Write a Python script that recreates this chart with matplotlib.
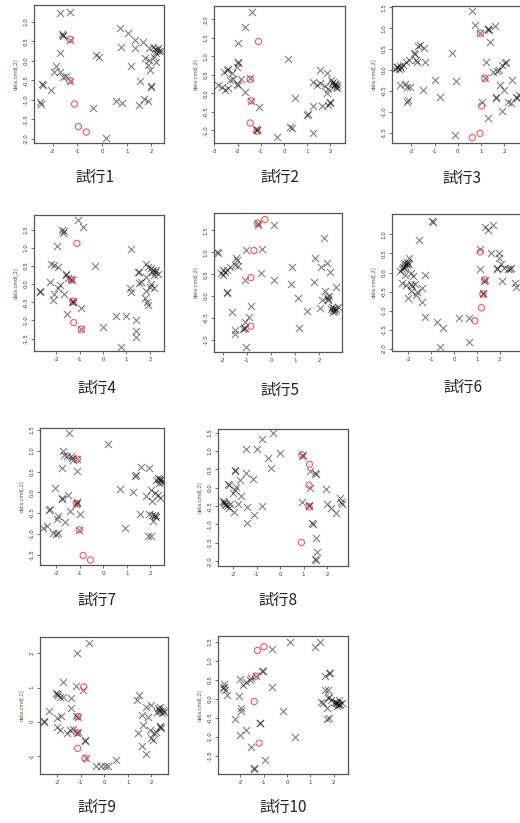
import numpy as np
import matplotlib.pyplot as plt

plt.rcParams['axes.unicode_minus'] = False

# ---- data: black crosses (x, y) and red circles (x, y) per trial ----
t1_cross = np.array([(-1.73,1.23),(-1.32,1.26),(-1.59,0.66),(-1.57,0.64),(-1.62,0.68),(-1.29,0.53),(-1.73,0.19),
    (-1.86,-0.13),(-1.96,-0.30),(-1.73,-0.28),(-1.59,-0.41),(-1.45,-0.38),(-1.30,-0.53),(-2.41,-0.62),(-2.43,-0.60),
    (-2.09,-0.75),(-2.54,-1.05),(-2.50,-1.10),(-0.37,-1.22),(0.14,-1.97),(-0.24,0.15),(-0.14,0.10),(0.74,0.85),
    (1.05,0.70),(0.77,0.34),(1.32,0.53),(1.32,0.32),(1.66,0.49),(1.19,-0.13),(0.58,-1.03),(0.82,-1.09),(1.53,-0.52),
    (1.50,-1.14),(1.69,-0.97),(1.86,-1.02),(1.73,0.06),(1.90,0.02),(1.86,-0.11),(1.96,-0.24),(2.00,-0.66),(2.01,-0.68),
    (1.90,0.32),(2.07,0.34),(2.15,0.30),(2.22,0.27),(2.30,0.24),(2.38,0.26),(2.20,0.21),(2.27,0.33),(2.10,0.10),(2.20,-0.02)])
t1_red = np.array([(-1.30,0.55),(-1.32,-0.51),(-1.12,-1.11),(-0.96,-1.69),(-0.64,-1.83)])

t2_cross = np.array([(-1.39,2.21),(-1.68,1.80),(-2.0,1.35),(-2.0,0.86),(-1.97,0.83),(-2.04,0.72),(0.19,0.92),(-2.6,0.58),
    (-2.47,0.62),(-2.4,0.67),(-2.25,0.54),(-2.33,0.36),(-2.2,0.40),(-2.83,0.23),(-2.54,0.10),(-2.68,0.18),(-2.4,0.14),
    (-2.0,0.23),(-2.02,0.25),(-1.85,0.38),(-1.68,0.05),(-1.46,0.41),(-1.42,-0.2),(-1.10,-0.37),(-1.17,-0.98),(-1.15,-1.0),
    (-1.19,-0.95),(-0.31,-1.18),(0.26,-0.91),(0.36,-0.93),(0.48,-0.13),(0.98,-0.58),(1.02,-0.55),(1.27,-0.35),(1.27,-1.07),
    (1.27,0.32),(1.41,0.22),(1.55,0.28),(1.55,0.63),(1.63,-0.35),(1.77,0.19),(1.84,0.54),(1.84,0.0),(1.90,-0.31),
    (1.98,-0.22),(2.0,-0.25),(2.02,0.36),(2.1,0.30),(2.18,0.24),(2.25,0.18),(2.3,0.14),(2.15,0.20),(2.05,0.28),
    (2.22,0.26),(2.3,0.22),(1.9,0.12)])
t2_red = np.array([(-1.10,1.40),(-1.46,0.38),(-1.42,-0.2),(-1.46,-0.80),(-1.17,-1.02)])

t3_cross = np.array([(0.62,1.40),(0.72,1.08),(0.97,0.88),(1.30,0.98),(1.33,0.96),(1.28,0.99),(1.59,1.06),(1.38,0.68),
    (-0.27,0.40),(-1.70,0.58),(-1.62,0.60),(-1.9,0.40),(-1.86,0.37),(-1.46,0.52),(-2.1,0.24),(-2.24,0.20),(-1.82,0.24),
    (-1.75,0.20),(-1.42,0.20),(-2.7,0.03),(-2.6,0.06),(-2.5,0.10),(-2.45,0.05),(-2.55,0.02),(-2.35,0.12),(-2.62,0.08),
    (-2.47,-0.36),(-2.28,-0.34),(-2.18,-0.40),(-2.06,-0.42),(-2.14,-0.72),(-2.18,-0.78),(-1.51,-0.48),(-0.99,-0.24),
    (-0.77,-0.64),(-0.06,-0.26),(-0.13,-1.56),(1.05,-0.76),(1.16,-0.2),(1.19,0.2),(1.30,-1.16),(1.52,-0.06),(1.69,-0.02),
    (1.79,0.0),(1.91,0.12),(2.05,0.20),(2.03,0.17),(1.81,-0.36),(1.98,-0.48),(1.66,-0.66),(1.64,-0.68),(1.88,-0.98),
    (2.16,-0.76),(2.27,-0.80),(2.31,-0.24),(2.48,-0.64),(2.55,-0.68),(2.62,-0.60)])
t3_red = np.array([(0.97,0.88),(1.16,-0.2),(1.02,-0.86),(0.95,-1.52),(0.62,-1.62)])

t4_cross = np.array([(-1.07,1.76),(-0.85,1.58),(-1.73,1.49),(-1.70,1.40),(-1.68,1.45),(-1.95,1.05),(-2.2,0.54),(-2.1,0.52),
    (-1.92,0.48),(-0.36,0.50),(1.18,0.96),(-1.59,0.27),(-1.57,0.25),(-1.49,0.16),(-1.35,0.14),(-1.32,0.10),(-2.24,0.06),
    (-1.85,-0.03),(-1.92,-0.12),(-2.1,-0.28),(-2.13,-0.44),(-1.66,-0.28),(-2.7,-0.19),(-2.68,-0.21),(-1.28,-0.46),
    (-1.30,-0.49),(-1.26,-0.50),(-0.95,-0.67),(-1.53,-0.81),(-0.92,-1.24),(0.0,-1.17),(0.54,-0.87),(0.99,-0.88),
    (1.42,-0.99),(1.42,-1.29),(1.42,-1.45),(0.78,-1.72),(1.16,-0.10),(1.21,-0.23),(1.49,0.34),(1.55,0.32),(1.53,0.02),
    (1.62,0.06),(1.82,0.54),(1.90,0.48),(1.85,0.2),(1.99,-0.07),(2.04,0.0),(1.85,-0.19),(1.78,-0.39),(1.89,-0.50),
    (1.92,-0.58),(2.06,0.43),(2.13,0.38),(2.23,0.34),(2.34,0.29),(2.16,0.25),(2.26,0.40),(2.1,0.32),(2.16,-0.10)])
t4_red = np.array([(-1.11,1.12),(-1.35,0.12),(-1.28,-0.47),(-1.25,-1.06),(-0.92,-1.24)])

t5_cross = np.array([(-0.56,1.67),(-0.53,1.62),(0.13,1.63),(-0.36,1.08),(-1.02,1.06),(-2.23,1.0),(-2.21,0.98),(-1.44,0.87),
    (-1.40,0.83),(-1.39,0.68),(-1.50,0.72),(-1.71,0.67),(-2.0,0.60),(-1.93,0.56),(-2.07,0.52),(-2.0,0.48),(-1.85,0.60),
    (-0.43,0.52),(-1.09,0.37),(0.14,0.37),(-1.85,0.08),(-1.83,0.10),(-1.64,-0.36),(-0.84,-0.22),(-0.92,-0.49),
    (-1.09,-0.59),(-1.12,-0.74),(-1.15,-0.76),(-1.10,-0.72),(-1.5,-0.78),(-1.48,-0.86),(-1.05,-1.17),(0.84,0.27),
    (0.86,0.66),(1.11,-0.05),(1.49,-0.35),(1.17,-0.74),(1.77,0.31),(1.84,0.87),(2.19,1.33),(2.09,0.67),(2.33,0.75),
    (2.47,0.54),(2.05,-0.28),(2.23,0.12),(2.12,-0.09),(2.33,-0.02),(2.38,-0.06),(2.42,0.0),(2.36,-0.09),(2.68,0.21),
    (2.50,-0.30),(2.56,-0.33),(2.62,-0.27),(2.70,-0.30),(2.78,-0.25),(2.58,-0.36),(2.66,-0.34),(2.52,-0.25)])
t5_red = np.array([(-0.56,1.67),(-0.25,1.75),(-0.71,1.04),(-0.84,0.42),(-0.84,-0.69)])

t6_cross = np.array([(-0.96,1.35),(-0.94,1.33),(-1.52,0.86),(-2.35,0.03),(-2.28,0.08),(-2.2,0.13),(-2.15,0.18),(-2.1,0.22),
    (-2.05,0.27),(-2.2,0.24),(-2.25,0.15),(-2.02,0.20),(-1.98,0.39),(-2.0,0.25),(-2.13,-0.06),(-1.9,-0.02),(-1.82,-0.10),
    (-2.3,-0.28),(-2.09,-0.32),(-1.9,-0.30),(-1.85,-0.36),(-1.72,-0.30),(-1.62,-0.50),(-1.87,-0.48),(-2.01,-0.67),
    (-1.28,-0.06),(-1.4,-0.41),(-1.4,-0.76),(-1.66,-0.58),(-1.28,-1.15),(-0.74,-1.30),(-0.48,-1.44),(-0.63,-1.94),
    (0.23,-1.18),(0.64,-1.18),(0.67,-1.82),(1.15,0.62),(1.15,0.09),(1.34,-0.19),(1.32,-0.21),(1.26,-0.54),(1.28,-0.56),
    (1.37,1.18),(1.49,1.12),(1.71,1.23),(1.62,0.51),(1.96,0.51),(1.96,0.38),(2.07,0.22),(1.88,0.09),(1.86,0.11),
    (2.18,0.11),(2.36,0.10),(2.50,0.11),(2.46,0.08),(2.10,-0.22),(2.69,-0.28),(2.72,-0.37)])
t6_red = np.array([(1.15,0.54),(1.34,-0.19),(1.26,-0.56),(1.20,-0.92),(0.91,-1.26)])

t7_cross = np.array([(-1.44,1.43),(0.21,1.17),(-1.72,0.99),(-1.66,0.91),(-1.55,0.87),(-1.37,0.87),(-1.30,0.79),(-1.33,0.83),
    (-1.10,0.80),(-1.76,0.59),(-1.13,0.52),(-2.04,0.10),(-1.76,-0.14),(-1.73,-0.16),(-1.48,-0.07),(-1.13,-0.26),
    (-1.15,-0.28),(-1.10,-0.24),(-2.28,-0.42),(-2.26,-0.40),(-1.41,-0.44),(-0.99,-0.52),(-1.9,-0.58),(-1.97,-0.64),
    (-1.62,-0.72),(-2.54,-0.85),(-2.39,-0.82),(-2.14,-0.98),(-2.0,-1.0),(-1.9,-0.98),(-1.01,-0.90),(0.73,0.09),
    (0.92,-0.86),(1.27,0.02),(1.34,0.39),(1.38,0.42),(1.55,-0.52),(1.62,0.60),(1.93,0.59),(1.83,-0.08),(1.93,-0.52),
    (2.04,0.06),(2.08,-0.20),(2.18,-0.02),(2.32,-0.06),(2.42,-0.14),(2.11,-0.70),(2.08,-0.54),(2.18,-0.54),(2.23,-0.60),
    (2.21,-0.58),(1.90,-1.06),(2.04,-1.04),(2.25,0.30),(2.32,0.35),(2.40,0.29),(2.50,0.26),(2.58,0.24),(2.35,0.22),
    (2.45,0.32),(2.38,0.33)])
t7_red = np.array([(-1.10,0.80),(-1.13,-0.27),(-1.01,-0.90),(-0.85,-1.52),(-0.54,-1.63)])

t8_cross = np.array([(-0.30,1.48),(-0.77,1.33),(-0.98,1.05),(-1.46,1.05),(-0.51,0.82),(-0.01,0.94),(-0.37,0.55),(-1.93,0.48),
    (-1.91,0.46),(-1.43,0.39),(-1.15,0.25),(-1.72,0.21),(-2.21,0.09),(-2.19,0.07),(-1.86,0.03),(-1.93,-0.06),(-2.0,-0.15),
    (-1.65,-0.23),(-1.79,-0.43),(-2.43,-0.36),(-2.37,-0.40),(-2.30,-0.45),(-2.25,-0.50),(-2.18,-0.55),(-2.35,-0.48),
    (-2.40,-0.42),(-2.14,-0.45),(-1.96,-0.67),(-1.39,-0.52),(-1.11,-0.73),(-1.39,-0.97),(-0.77,-0.49),(0.95,0.86),
    (0.98,0.88),(1.26,0.45),(1.47,0.39),(1.54,0.37),(1.26,0.0),(0.95,-0.40),(1.23,-0.49),(1.25,-0.47),(1.36,-0.95),
    (1.38,-0.98),(1.52,-1.36),(1.57,-1.75),(1.50,-1.93),(1.55,-1.97),(1.94,-0.04),(2.01,-0.45),(2.18,-0.56),(2.40,-0.70),
    (2.54,-0.29),(2.61,-0.38),(2.64,-0.43)])
t8_red = np.array([(0.93,0.90),(1.25,0.64),(1.23,0.07),(1.23,-0.52),(0.91,-1.49)])

t9_cross = np.array([(-0.64,2.31),(-1.15,2.02),(-1.74,1.17),(-1.21,1.04),(-0.92,0.92),(-2.06,0.85),(-1.96,0.78),(-1.89,0.71),
    (-1.77,0.72),(-2.0,0.80),(-1.43,0.68),(-2.34,0.32),(-1.43,0.39),(-2.03,0.10),(-1.86,0.17),(-1.21,0.17),(-1.13,0.15),
    (-2.57,0.0),(-2.55,0.02),(-2.0,-0.15),(-1.89,-0.24),(-1.6,-0.34),(-1.46,-0.24),(-1.35,-0.20),(-1.15,-0.32),
    (-1.13,-0.30),(-0.82,-0.56),(-0.84,-0.54),(-0.79,-1.05),(-0.33,-1.31),(-0.14,-1.31),(0.03,-1.31),(0.17,-1.31),
    (0.50,-1.12),(1.38,0.65),(1.49,0.78),(1.42,-0.34),(1.62,-0.71),(1.80,-0.93),(1.77,0.42),(1.59,0.19),(1.66,-0.10),
    (1.87,0.15),(1.94,-0.24),(2.01,-0.49),(2.06,-0.54),(2.11,-0.34),(2.20,-0.29),(2.23,0.29),(2.30,0.40),(2.38,0.42),
    (2.50,0.35),(2.57,0.28),(2.45,0.25),(2.35,0.33),(2.40,0.30),(2.37,-0.13),(2.44,-0.17),(2.40,-0.15),(2.01,0.49)])
t9_red = np.array([(-0.87,1.02),(-1.13,0.15),(-1.15,-0.32),(-1.13,-0.78),(-0.82,-1.07)])

t10_cross = np.array([(0.11,1.48),(1.40,1.48),(1.21,1.35),(-0.64,1.30),(-1.07,0.72),(-1.05,0.74),(-1.34,0.60),(-1.56,0.54),
    (-1.74,0.45),(-1.60,0.49),(-1.89,0.37),(-2.03,0.52),(-2.70,0.39),(-2.74,0.28),(-2.67,0.24),(-2.72,0.32),(-2.56,0.10),
    (-2.07,0.08),(-0.64,0.31),(-1.96,-0.24),(-1.99,-0.31),(-0.17,-0.31),(-2.24,-0.52),(-1.17,-0.64),(-1.15,-0.62),
    (-1.74,-0.81),(-2.03,-0.94),(0.33,-0.99),(-1.56,-1.27),(-0.96,-1.60),(-1.43,-1.82),(-1.41,-1.84),(1.61,0.60),
    (1.80,0.67),(1.82,0.69),(1.61,0.24),(1.76,0.24),(1.47,-0.07),(1.54,-0.11),(1.76,0.02),(1.78,0.04),(1.69,-0.24),
    (1.69,-0.53),(1.79,-0.51),(1.90,-0.03),(2.01,-0.07),(2.08,-0.07),(2.15,-0.12),(2.24,-0.16),(2.34,-0.10),
    (2.12,-0.18),(2.22,-0.04),(2.18,-0.14),(2.28,-0.13),(2.10,-0.12)])
t10_red = np.array([(-0.99,1.37),(-1.27,1.27),(-1.34,0.60),(-1.41,-0.07),(-1.20,-1.16)])

titles = ['試行%d' % i for i in range(1, 11)]
crosses = [t1_cross, t2_cross, t3_cross, t4_cross, t5_cross, t6_cross, t7_cross, t8_cross, t9_cross, t10_cross]
reds = [t1_red, t2_red, t3_red, t4_red, t5_red, t6_red, t7_red, t8_red, t9_red, t10_red]

# ---- layout (pixels: left, top, right, bottom), limits, ticks, caption position ----
W, H = 520, 823
boxes = [(34, 5, 164, 143), (214, 6, 345, 143), (392, 6, 523, 143),
         (34, 215, 164, 351), (214, 213, 342, 352), (392, 214, 523, 351),
         (40, 428, 164, 565), (218, 429, 348, 566),
         (40, 637, 168, 774), (218, 636, 348, 774)]
xlims = [(-2.77, 2.52), (-3.02, 2.63), (-2.83, 2.80), (-2.94, 2.60), (-2.37, 2.95),
         (-2.72, 3.02), (-2.68, 2.58), (-2.64, 2.89), (-2.74, 2.72), (-2.96, 2.61)]
ylims = [(-2.11, 1.43), (-1.34, 2.36), (-1.75, 1.53), (-1.84, 1.90), (-1.28, 1.90),
         (-2.05, 1.53), (-1.75, 1.55), (-2.13, 1.60), (-1.53, 2.48), (-1.97, 1.65)]
xticks = [[-2, -1, 0, 1, 2], [-3, -2, -1, 0, 1, 2]] + [[-2, -1, 0, 1, 2]] * 8
yticks = [np.arange(-2.0, 1.01, 0.5), np.arange(-1.0, 2.01, 0.5), np.arange(-1.5, 1.51, 0.5),
          np.arange(-1.5, 1.51, 0.5), np.arange(-1.0, 1.51, 0.5), np.arange(-2.0, 1.01, 0.5),
          np.arange(-1.5, 1.51, 0.5), np.arange(-2.0, 1.51, 0.5), [-1, 0, 1, 2], np.arange(-1.5, 1.51, 0.5)]
captions = [(95, 177), (280, 177), (462, 178), (97, 388), (280, 390), (463, 387),
            (97, 600), (278, 600), (97, 807), (283, 807)]

fig = plt.figure(figsize=(W / 100, H / 100), dpi=100)

for i in range(10):
    l, t, r, b = boxes[i]
    ax = fig.add_axes([l / W, 1 - b / H, (r - l) / W, (b - t) / H])
    c = crosses[i]
    rd = reds[i]
    ax.scatter(c[:, 0], c[:, 1], marker='x', s=26, c='black', alpha=0.5, linewidths=0.8)
    ax.scatter(rd[:, 0], rd[:, 1], marker='o', s=20, facecolors='none', edgecolors='#ff2a2a',
               alpha=0.8, linewidths=0.8)
    ax.set_xlim(*xlims[i])
    ax.set_ylim(*ylims[i])
    ax.set_xticks(xticks[i])
    ax.set_xticklabels([str(v) for v in xticks[i]])
    yt = list(yticks[i])
    ax.set_yticks(yt)
    if i == 8:
        ax.set_yticklabels(['%d' % v for v in yt])
    else:
        ax.set_yticklabels(['%.1f' % v for v in yt])
    for lab in ax.get_yticklabels():
        lab.set_rotation(90)
        lab.set_va('center')
    ax.tick_params(labelsize=4, length=2, width=0.5, pad=2, colors='#333344')
    ax.set_ylabel('data.cmd[,2]', fontsize=3.5, color='#664444', labelpad=4)
    for sp in ax.spines.values():
        sp.set_color('#555555')
        sp.set_linewidth(0.9)
    cx, cy = captions[i]
    fig.text(cx / W, 1 - cy / H, titles[i], ha='center', va='center', fontsize=11,
             color='#222222', family=['Noto Sans CJK JP', 'DejaVu Sans'])

plt.savefig('out.png', dpi=100)
